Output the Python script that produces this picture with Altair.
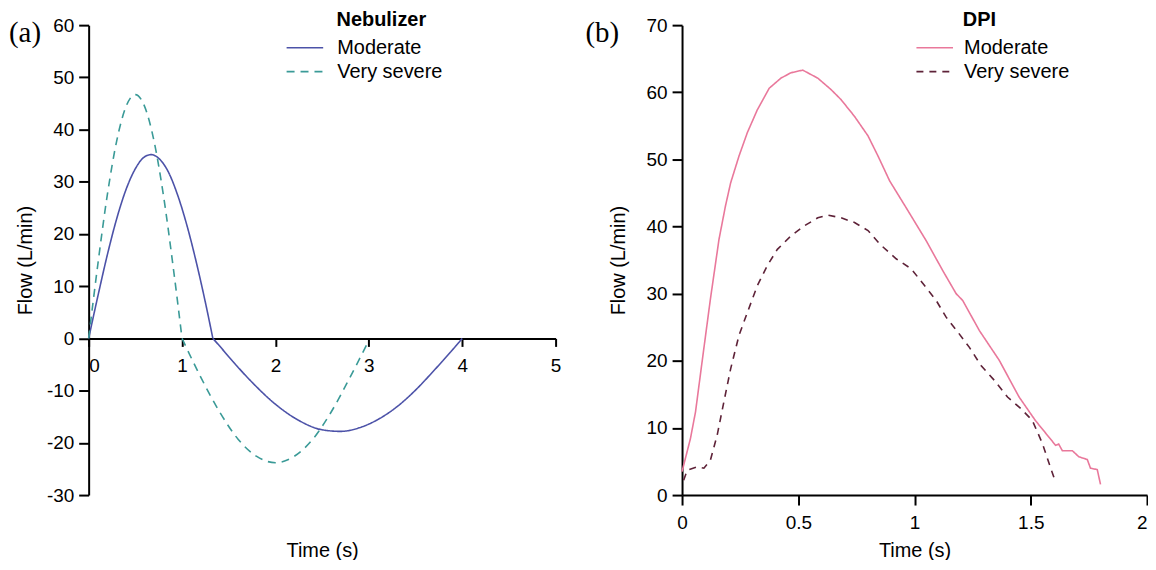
import altair as alt
import pandas as pd

# ---------------- data ----------------
series_names = ["Moderate", "Very severe"]
panel_letters = ["(a)", "(b)"]
legend_titles = ["Nebulizer", "DPI"]

# (a) Nebulizer -- inspiration (positive) and expiration (negative) parts
neb_mod_pos_t = [0, 0.1, 0.2, 0.3, 0.4, 0.5, 0.6, 0.67, 0.75, 0.85, 0.95, 1.05, 1.15, 1.25, 1.33]
neb_mod_pos_f = [0, 8.2, 16.0, 22.9, 28.5, 32.5, 34.8, 35.2, 34.5, 32.0, 27.6, 21.8, 14.8, 6.9, 0]
neb_mod_neg_t = [1.33, 1.4, 1.5, 1.75, 2.0, 2.25, 2.5, 2.7, 2.9, 3.1, 3.3, 3.5, 3.7, 3.9, 4.0]
neb_mod_neg_f = [0, -1.4, -3.5, -8.4, -12.6, -15.7, -17.5, -17.8, -17.1, -15.5, -13.1, -9.9, -6.1, -2.1, 0]
neb_vs_pos_t = [0, 0.1, 0.2, 0.3, 0.4, 0.5, 0.6, 0.7, 0.8, 0.9, 1.0]
neb_vs_pos_f = [0, 14.4, 27.5, 37.8, 44.4, 46.7, 44.4, 37.8, 27.5, 14.4, 0]
neb_vs_neg_t = [1.0, 1.2, 1.4, 1.6, 1.8, 2.0, 2.2, 2.4, 2.6, 2.8, 3.0]
neb_vs_neg_f = [0, -7.4, -14.0, -19.3, -22.6, -23.8, -22.6, -19.3, -14.0, -7.4, -0.4]

# (b) DPI
dpi_mod_t = [0.0, 0.036, 0.058, 0.086, 0.122, 0.159, 0.187, 0.209, 0.245, 0.281, 0.324, 0.375,
             0.425, 0.468, 0.519, 0.584, 0.641, 0.684, 0.742, 0.8, 0.843, 0.893, 0.964, 1.05,
             1.122, 1.179, 1.207, 1.279, 1.364, 1.45, 1.52, 1.607, 1.62, 1.636, 1.679, 1.707,
             1.743, 1.757, 1.786, 1.8]
dpi_mod_f = [3.5, 8.4, 12.4, 19.8, 29.2, 38.1, 43.1, 46.5, 50.5, 54.0, 57.4, 60.6,
             62.1, 62.9, 63.3, 62.1, 60.4, 58.9, 56.4, 53.5, 50.5, 46.8, 42.8, 37.9,
             33.4, 30.0, 29.0, 24.5, 20.1, 14.6, 11.1, 7.4, 7.6, 6.6, 6.6, 5.7,
             5.3, 4.0, 3.8, 1.6]
dpi_vs_t = [0.007, 0.022, 0.065, 0.094, 0.122, 0.151, 0.18, 0.209, 0.245, 0.281, 0.324, 0.367,
            0.41, 0.468, 0.526, 0.584, 0.627, 0.684, 0.742, 0.8, 0.85, 0.921, 0.986, 1.043,
            1.093, 1.136, 1.186, 1.236, 1.286, 1.343, 1.4, 1.457, 1.507, 1.55, 1.579, 1.604]
dpi_vs_f = [2.2, 3.7, 4.2, 4.0, 5.2, 8.9, 13.9, 18.8, 23.8, 27.2, 31.2, 34.2,
            36.6, 38.6, 40.1, 41.3, 41.7, 41.3, 40.6, 39.4, 37.4, 35.2, 33.7, 31.2,
            29.0, 26.5, 24.3, 22.0, 19.3, 17.1, 14.6, 12.9, 11.1, 7.7, 4.7, 2.2]

x_ticks_a = [0, 1, 2, 3, 4, 5]
y_ticks_a = [-30, -20, -10, 0, 10, 20, 30, 40, 50, 60]
x_ticks_b = [0, 0.5, 1, 1.5, 2]
y_ticks_b = [0, 10, 20, 30, 40, 50, 60, 70]

colors_a = ["#4c52a8", "#3a9a97"]
colors_b = ["#e9789b", "#5e2238"]

# ---------------- styling ----------------
WA, WB, H = 469, 467, 472
FONT = "Liberation Sans"
ZERO_A = H * 60 / 90  # pixel of flow 0 in panel (a)


def frame(parts):
    rows = []
    for k, (name, ts, fs) in enumerate(parts):
        for t, f in zip(ts, fs):
            rows.append({"t": t, "flow": f, "series": name, "part": k})
    return pd.DataFrame(rows)


def legend(x, y, offset):
    return alt.Legend(orient="none", legendX=x, legendY=y, title=None, symbolType="stroke",
                      symbolSize=1350, symbolStrokeWidth=1.6, labelFont=FONT, labelFontSize=20,
                      labelColor="black", labelOffset=offset, rowPadding=0, clipHeight=24,
                      padding=0, labelLimit=300)


def panel(df, width, xdom, ydom, yt, colors, dash, interp, xaxis, leg, letter, ltitle,
          letter_x, ltitle_x):
    lines = alt.Chart(df).mark_line(strokeWidth=1.6, interpolate=interp).encode(
        x=alt.X("t:Q", scale=alt.Scale(domain=xdom, nice=False, zero=False), axis=xaxis),
        y=alt.Y("flow:Q", scale=alt.Scale(domain=ydom, nice=False, zero=False),
                axis=alt.Axis(values=yt, title="Flow (L/min)", tickSize=10, labelPadding=5,
                              labelExpr="toString(datum.value)", titleX=-63.5, titleY=H / 2,
                              titleBaseline="middle", titleAngle=-90)),
        color=alt.Color("series:N", scale=alt.Scale(domain=series_names, range=colors),
                        legend=leg),
        strokeDash=alt.StrokeDash("series:N",
                                  scale=alt.Scale(domain=series_names, range=[[1, 0], dash]),
                                  legend=leg),
        detail="part:N",
    )
    lab = alt.Chart(pd.DataFrame({"txt": [letter]})).mark_text(
        font="Liberation Serif", fontSize=29, align="left", baseline="middle", color="black"
    ).encode(text="txt:N", x=alt.value(letter_x), y=alt.value(7.5))
    ttl = alt.Chart(pd.DataFrame({"txt": [ltitle]})).mark_text(
        font=FONT, fontSize=20, fontWeight="bold", align="left", baseline="middle", color="black"
    ).encode(text="txt:N", x=alt.value(ltitle_x), y=alt.value(-5))
    return alt.layer(lines, lab, ttl).properties(width=width, height=H)


xaxis_a = alt.Axis(values=x_ticks_a, title="Time (s)", offset=-(H - ZERO_A), tickSize=8,
                   labelPadding=10.5, labelExpr="toString(datum.value)",
                   labelAlign={"condition": {"test": "datum.value === 0", "value": "left"},
                               "value": "center"},
                   titleY=528 - ZERO_A, titleBaseline="middle")
xaxis_b = alt.Axis(values=x_ticks_b, title="Time (s)", tickSize=10, labelPadding=8.5,
                   labelExpr="toString(datum.value)",
                   labelAlign={"condition": {"test": "datum.value === 2", "value": "right"},
                               "value": "center"},
                   titleY=528 - H, titleBaseline="middle")

df_a = frame([(series_names[0], neb_mod_pos_t, neb_mod_pos_f),
              (series_names[0], neb_mod_neg_t, neb_mod_neg_f),
              (series_names[1], neb_vs_pos_t, neb_vs_pos_f),
              (series_names[1], neb_vs_neg_t, neb_vs_neg_f)])
df_b = frame([(series_names[0], dpi_mod_t, dpi_mod_f),
              (series_names[1], dpi_vs_t, dpi_vs_f)])

pa = panel(df_a, WA, [0, 5], [-30, 60], y_ticks_a, colors_a, [8, 6], "monotone", xaxis_a,
           legend(197.7, 10.7, 13), panel_letters[0], legend_titles[0], -80, 249)
pb = panel(df_b, WB, [0, 2], [0, 70], y_ticks_b, colors_b, [7, 6], "linear", xaxis_b,
           legend(234.3, 10.7, 10), panel_letters[1], legend_titles[1], -97, 282)

chart = alt.hconcat(pa, pb, spacing=127, bounds="flush").resolve_scale(
    color="independent", strokeDash="independent"
).properties(
    padding={"left": 1, "top": 1, "right": 0, "bottom": -2}
).configure_view(stroke=None).configure_axis(
    grid=False, domainColor="black", domainWidth=2, tickColor="black", tickWidth=2,
    labelFont=FONT, labelFontSize=19, labelColor="black", titleFont=FONT, titleFontSize=20,
    titleFontWeight="normal", titleColor="black"
)

chart.save("out.html", embed_options={"renderer": "svg", "actions": False})
